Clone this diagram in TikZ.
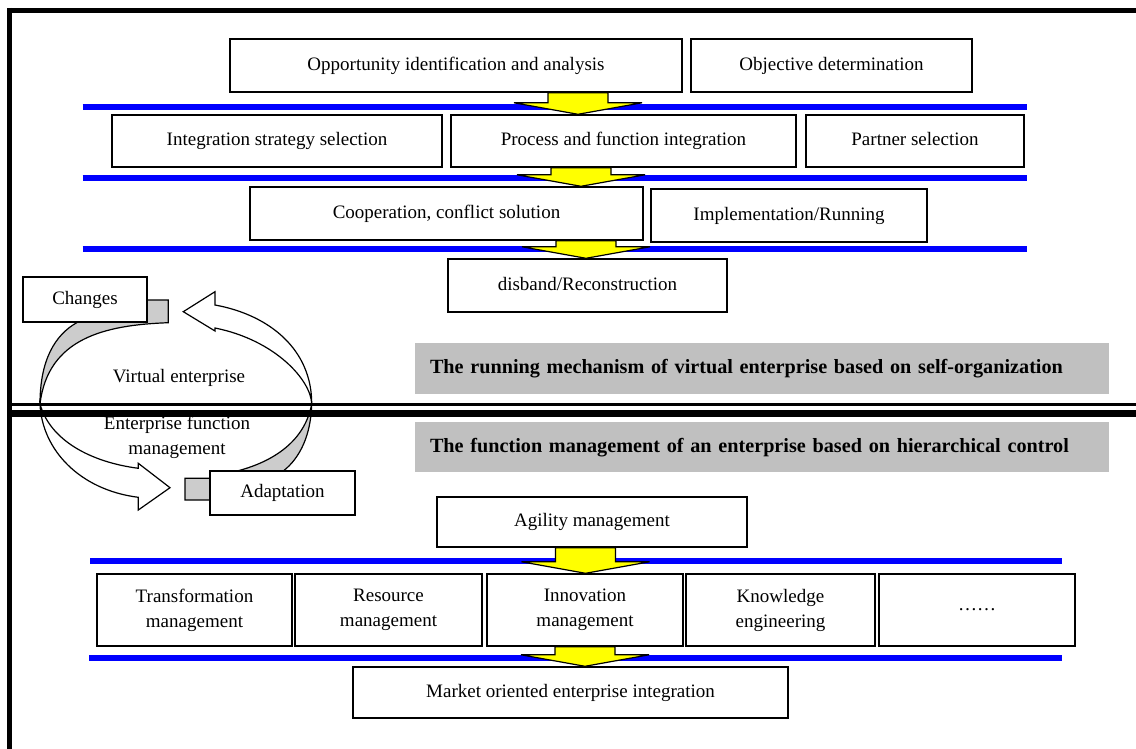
\documentclass[tikz,border=0pt]{standalone}
\usepackage{fontspec}
\setmainfont{Liberation Serif}
\usetikzlibrary{calc}
\definecolor{vblue}{RGB}{0,0,255}
\definecolor{vyellow}{RGB}{255,255,0}
\definecolor{titlegray}{RGB}{192,192,192}
\definecolor{ribbongray}{RGB}{204,204,204}
\newcommand\yarr[3]{%
  \path[yarrowsty] let \p1=(#2.south), \p2=(#3.north) in
    (#1pt-30pt,\y1) -- (#1pt-30pt,\y2+11.5pt) -- (#1pt-64pt,\y2+11.5pt) -- (#1pt,\y2)
    -- (#1pt+64pt,\y2+11.5pt) -- (#1pt+30pt,\y2+11.5pt) -- (#1pt+30pt,\y1) -- cycle;}
\begin{document}
\begin{tikzpicture}[x=1pt,y=-1pt, font=\fontsize{19}{25}\selectfont,
  box/.style={draw, line width=1.4pt, fill=white, inner sep=0pt, align=center},
  sbox/.style={box, text height=13.5pt, text depth=4pt},
  tbox/.style={fill=titlegray, inner xsep=15pt, inner ysep=0pt, text width=664pt, align=left,
               text height=14pt, text depth=4pt,
               font=\fontsize{20.2}{24}\selectfont\bfseries},
  blueline/.style={draw=vblue, line width=6pt},
  yarrowsty/.style={fill=vyellow, draw=black, line width=1.2pt, line join=miter},
  ribbon/.style={fill=ribbongray, draw=black, line width=1.2pt},
  wharrow/.style={fill=white, draw=black, line width=1.2pt},
  framel/.style={line width=5pt}]
\useasboundingbox (0,0) rectangle (1136,749);
\fill[white] (0,0) rectangle (1136,749);

% blue lines
\draw[blueline] (82.7,107) -- (1027,107);
\draw[blueline] (82.7,178.5) -- (1027,178.5);
\draw[blueline] (82.7,249) -- (1027,249);
\draw[blueline] (90,561) -- (1062,561);
\draw[blueline] (89,658) -- (1062,658);

% upper part boxes
\node[sbox, minimum width=452pt, minimum height=53pt] (opp) at (456,65.5) {Opportunity identification and analysis};
\node[sbox, minimum width=281pt, minimum height=53pt] (obj) at (831.5,65.5) {Objective determination};
\node[sbox, minimum width=330pt, minimum height=52pt] (integ) at (277,141) {Integration strategy selection};
\node[sbox, minimum width=345pt, minimum height=52pt] (proc) at (623.5,141) {Process and function integration};
\node[sbox, minimum width=218pt, minimum height=52pt] (partner) at (915,141) {Partner selection};
\node[sbox, minimum width=393pt, minimum height=53pt] (coop) at (446.5,213.5) {Cooperation, conflict solution};
\node[sbox, minimum width=276pt, minimum height=53pt] (impl) at (789,215.5) {Implementation/Running};
\node[sbox, minimum width=279pt, minimum height=53pt] (disband) at (587.5,285.5) {disband/Reconstruction};

% title boxes
\node[tbox, minimum height=51pt] (titleA) at (762,368.5) {The running mechanism of virtual enterprise based on self-organization};
\node[tbox, minimum height=50pt] (titleB) at (762,447) {The function management of an enterprise based on hierarchical control};

% cycle
\path[ribbon] (168.3,300) -- (168.3,322.7) .. controls (105,325) and (48,338) .. (40,404)
   .. controls (40,360) and (55,335) .. (76.7,322.7) -- (100,300) -- cycle;
\path[ribbon] (311.7,404) .. controls (311,435) and (300,458) .. (283.3,471) -- (240,478.3)
   -- (185,478.3) -- (185,500) -- (240,500) -- (233.3,472)
   .. controls (275,462) and (305,440) .. (311.7,404) -- cycle;
\path[wharrow] (311.7,404) .. controls (312,350) and (270,315) .. (215,305) -- (215,291.7)
   -- (183.3,311.7) -- (215,331) -- (215,328) .. controls (275,340) and (311,380) .. (311.7,404) -- cycle;
\path[wharrow] (40,404) .. controls (42,450) and (80,490) .. (138.3,497.3) -- (138.3,510)
   -- (170,487.7) -- (138.3,463.3) -- (138.3,468.3) .. controls (90,462) and (50,440) .. (40,404) -- cycle;
\node[sbox, minimum width=124pt, minimum height=45pt] (changes) at (85,299.5) {Changes};
\node[sbox, minimum width=145pt, minimum height=44pt] (adapt) at (282.5,493) {Adaptation};
\node (ve) at (179,378) {Virtual enterprise};
\node[align=center] (efm) at (177,437.5) {Enterprise function\\management};

% lower part boxes
\node[sbox, minimum width=310pt, minimum height=50pt] (agility) at (592,522) {Agility management};
\node[box, minimum width=195pt, minimum height=72pt] (transf) at (194.5,610) {Transformation\\management};
\node[box, minimum width=187pt, minimum height=72pt] (resource) at (388.5,610) {Resource\\management};
\node[box, minimum width=196pt, minimum height=72pt] (innov) at (585,610) {Innovation\\management};
\node[box, minimum width=189pt, minimum height=72pt] (knowl) at (780.5,610) {Knowledge\\engineering};
\node[box, minimum width=196pt, minimum height=72pt] (dots) at (977,610) {……};
\node[sbox, minimum width=435pt, minimum height=51pt] (market) at (570.5,692.5) {Market oriented enterprise integration};

% yellow block arrows
\yarr{578}{opp}{proc}
\yarr{581}{proc}{coop}
\yarr{586}{coop}{disband}
\yarr{585.5}{agility}{innov}
\yarr{585}{innov}{market}

% frame and separator
\draw[framel] (7,10.5) -- (1136,10.5);
\draw[framel] (9.5,8) -- (9.5,749);
\draw[line width=3.5pt] (12,404.7) -- (1136,404.7);
\draw[line width=7pt] (12,413.3) -- (1136,413.3);
\end{tikzpicture}
\end{document}
